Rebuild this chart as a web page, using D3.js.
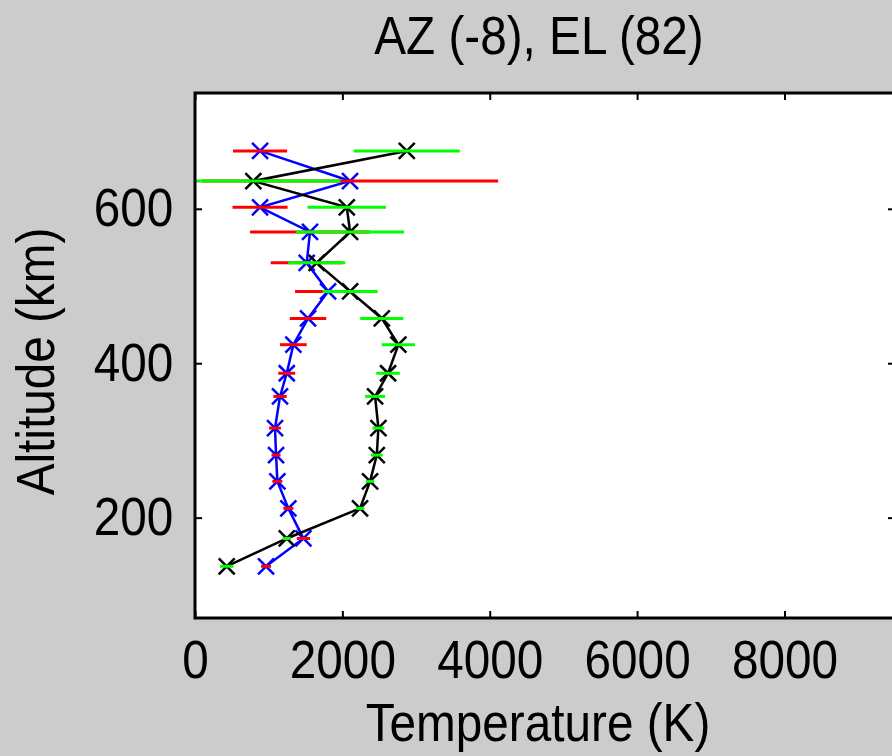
<!DOCTYPE html>
<html>
<head>
<meta charset="utf-8">
<script src="https://cdn.jsdelivr.net/npm/d3@7"></script>
<style>
  html, body { margin: 0; padding: 0; background: #cccccc; }
  svg { display: block; }
  text { font-family: "Liberation Sans", Arial, sans-serif; fill: #000; }
</style>
</head>
<body>
<svg id="chart" width="892" height="756"></svg>
<script>

/*********************/
/*** INIT VARIABLE ***/
/*********************/

// altitude levels (km)
let altitude = [675, 636, 602, 570, 530, 493, 458, 424, 387, 357, 316, 281, 247, 212, 173, 137];

// profile 1 (blue line, red error bars), temperature in K
let temp_a = [883, 2104, 883, 1561, 1516, 1806, 1534, 1335, 1245, 1154, 1086, 1100, 1118, 1267, 1471, 964];
let err_a  = [367, 2010, 374, 814, 489, 448, 247, 181, 115, 90, 80, 61, 68, 68, 90, 68];

// profile 2 (black line, green error bars)
let temp_b = [2874, 792, 2060, 2105, 1652, 2105, 2535, 2760, 2620, 2444, 2489, 2467, 2376, 2240, 1245, 430];
let err_b  = [720, 1180, 532, 733, 387, 374, 292, 226, 160, 136, 82, 79, 57, 57, 57, 90];

let x_ticks = [0, 2000, 4000, 6000, 8000];
let y_ticks = [200, 400, 600];

let title_text = "AZ (-8), EL (82)",
    x_label = "Temperature (K)",
    y_label = "Altitude (km)";

let svg = d3.select("#chart");

let plot = {left: 195, top: 93, right: 895, bottom: 618},
    font_size = 53,
    squeeze = "scale(0.9,1)",
    tick_len = 7;

let x = d3.scaleLinear().domain([0, 9500]).range([plot.left, plot.right]),
    y = d3.scaleLinear().domain([70, 750]).range([plot.bottom, plot.top]);

let series = [
    {temp: temp_a, err: err_a, line: "#0000ff", bar: "#ff0000"},
    {temp: temp_b, err: err_b, line: "#000000", bar: "#00ff00"}
];

/********************************/
/*** DECLARE HELPER FUNCTIONS ***/
/********************************/

function render_frame() {
    svg.append("rect")
        .attr("x", plot.left)
        .attr("y", plot.top)
        .attr("width", plot.right - plot.left)
        .attr("height", plot.bottom - plot.top)
        .attr("fill", "#ffffff");

    svg.append("clipPath")
        .attr("id", "plot-clip")
        .append("rect")
        .attr("x", plot.left)
        .attr("y", plot.top)
        .attr("width", plot.right - plot.left)
        .attr("height", plot.bottom - plot.top);
}

function render_axes() {
    svg.append("g")
        .attr("transform", `translate(0, ${plot.bottom})`)
        .call(d3.axisBottom(x).tickValues(x_ticks).tickSize(-tick_len).tickPadding(22).tickFormat(d3.format("d")));

    svg.append("g")
        .attr("transform", `translate(0, ${plot.top})`)
        .call(d3.axisTop(x).tickValues(x_ticks).tickSize(-tick_len).tickFormat(""));

    svg.append("g")
        .attr("transform", `translate(${plot.left}, 0)`)
        .call(d3.axisLeft(y).tickValues(y_ticks).tickSize(-tick_len).tickPadding(24).tickFormat(d3.format("d")));

    svg.append("g")
        .attr("transform", `translate(${plot.right}, 0)`)
        .call(d3.axisRight(y).tickValues(y_ticks).tickSize(-tick_len).tickFormat(""));

    svg.selectAll(".domain").remove();
    svg.selectAll(".tick line").attr("stroke", "#000").attr("stroke-width", 2);
    svg.selectAll(".tick text")
        .attr("font-size", font_size)
        .attr("font-family", "Liberation Sans, Arial, sans-serif")
        .attr("fill", "#000")
        .attr("transform", squeeze);

    // box around the axes
    svg.append("rect")
        .attr("x", plot.left)
        .attr("y", plot.top)
        .attr("width", plot.right - plot.left)
        .attr("height", plot.bottom - plot.top)
        .attr("fill", "none")
        .attr("stroke", "#000")
        .attr("stroke-width", 3);
}

function render_labels() {
    svg.append("text")
        .attr("transform", `translate(${(plot.left + plot.right) / 2 - 6}, 54) ${squeeze}`)
        .attr("text-anchor", "middle")
        .attr("font-size", font_size)
        .text(title_text);

    svg.append("text")
        .attr("transform", `translate(${(plot.left + plot.right) / 2 - 7}, 741) ${squeeze}`)
        .attr("text-anchor", "middle")
        .attr("font-size", font_size)
        .text(x_label);

    svg.append("text")
        .attr("transform", `translate(54, ${(plot.top + plot.bottom) / 2 + 6}) rotate(-90) ${squeeze}`)
        .attr("text-anchor", "middle")
        .attr("font-size", font_size)
        .text(y_label);
}

function render_series(s) {
    let pts = altitude.map((a, i) => ({alt: a, t: s.temp[i], e: s.err[i]}));
    let g = svg.append("g").attr("clip-path", "url(#plot-clip)");

    g.append("path")
        .datum(pts)
        .attr("fill", "none")
        .attr("stroke", s.line)
        .attr("stroke-width", 2.5)
        .attr("d", d3.line().x((d) => x(d.t)).y((d) => y(d.alt)));

    let m = 8;
    g.selectAll("path.marker")
        .data(pts).enter()
        .append("path")
        .classed("marker", true)
        .attr("fill", "none")
        .attr("stroke", s.line)
        .attr("stroke-width", 2.5)
        .attr("d", (d) => {
            let cx = x(d.t), cy = y(d.alt);
            return `M${cx - m},${cy - m}L${cx + m},${cy + m}M${cx - m},${cy + m}L${cx + m},${cy - m}`;
        });

    g.selectAll("line.errbar")
        .data(pts).enter()
        .append("line")
        .classed("errbar", true)
        .attr("x1", (d) => x(d.t - d.e))
        .attr("x2", (d) => x(d.t + d.e))
        .attr("y1", (d) => y(d.alt))
        .attr("y2", (d) => y(d.alt))
        .attr("stroke", s.bar)
        .attr("stroke-width", 3);
}

/******************/
/*** DRAW CHART ***/
/******************/

render_frame();
series.forEach(render_series);
render_axes();
render_labels();

</script>
</body>
</html>
